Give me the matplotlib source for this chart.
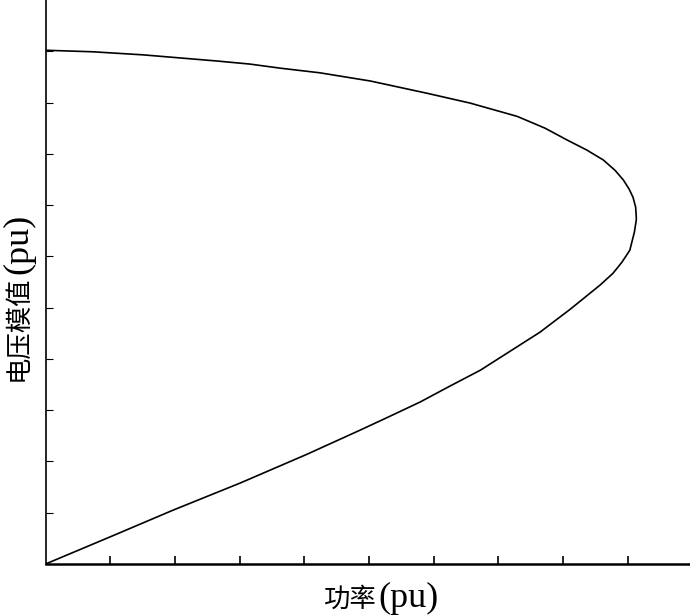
import numpy as np
import matplotlib
matplotlib.use("Agg")
import matplotlib.pyplot as plt

# P-V 曲线 (读图估计值): 下半支从原点到鼻点, 上半支从鼻点回到 P=0
p_lower = [0.0, 0.100, 0.197, 0.301, 0.404, 0.486, 0.532, 0.579, 0.625, 0.672,
           0.718, 0.764, 0.811, 0.857, 0.877, 0.891, 0.903, 0.910, 0.913]
v_lower = [0.0, 0.053, 0.105, 0.158, 0.214, 0.261, 0.288, 0.316, 0.347, 0.378,
           0.415, 0.452, 0.497, 0.544, 0.567, 0.589, 0.612, 0.647, 0.671]
p_upper = [0.913, 0.912, 0.908, 0.902, 0.893, 0.880, 0.862, 0.837, 0.806, 0.772,
           0.729, 0.656, 0.590, 0.502, 0.424, 0.363, 0.316, 0.265, 0.208, 0.151,
           0.073, 0.0]
v_upper = [0.676, 0.696, 0.715, 0.731, 0.749, 0.768, 0.788, 0.807, 0.827, 0.850,
           0.873, 0.899, 0.918, 0.942, 0.958, 0.967, 0.975, 0.981, 0.987, 0.993,
           0.999, 1.002]

xticks = np.arange(0.1, 1.0, 0.1)
yticks = np.arange(0.1, 1.05, 0.1)

fig = plt.figure(figsize=(6.9, 6.16), dpi=100)
ax = fig.add_axes([0.066, 0.0844, 0.934, 0.9156])

p = p_lower + p_upper
v = v_lower + v_upper
ax.plot(p, v, color="black", lw=1.2, solid_joinstyle="round")

ax.set_xlim(0, 0.996)
ax.set_ylim(0, 1.1)
ax.set_xticks(xticks)
ax.set_yticks(yticks)
ax.set_xticklabels([])
ax.set_yticklabels([])
ax.tick_params(axis="x", direction="in", length=6, width=1.2, color="black")
ax.tick_params(axis="y", direction="in", length=5, width=0.8, color="black")
for s in ["top", "right"]:
    ax.spines[s].set_visible(False)
ax.spines["left"].set_linewidth(1.2)
ax.spines["bottom"].set_linewidth(1.8)

# 轴标题: 中文和 (pu) 字号不同, 分两段放
cjk = "Noto Sans CJK SC"
lat = "Liberation Serif"
fig.text(377 / 690, 1 - 607 / 616, "功率", family=cjk, fontsize=19,
         ha="right", va="baseline")
fig.text(378 / 690, 1 - 607 / 616, "(pu)", family=lat, fontsize=26,
         ha="left", va="baseline")
fig.text(18 / 690, 1 - 381 / 616, "电压模值", family=cjk, fontsize=19,
         ha="center", va="bottom", rotation=90)
fig.text(19 / 690, 1 - 274 / 616, "(pu)", family=lat, fontsize=26,
         ha="center", va="bottom", rotation=90)

fig.savefig("out.png", dpi=100)
